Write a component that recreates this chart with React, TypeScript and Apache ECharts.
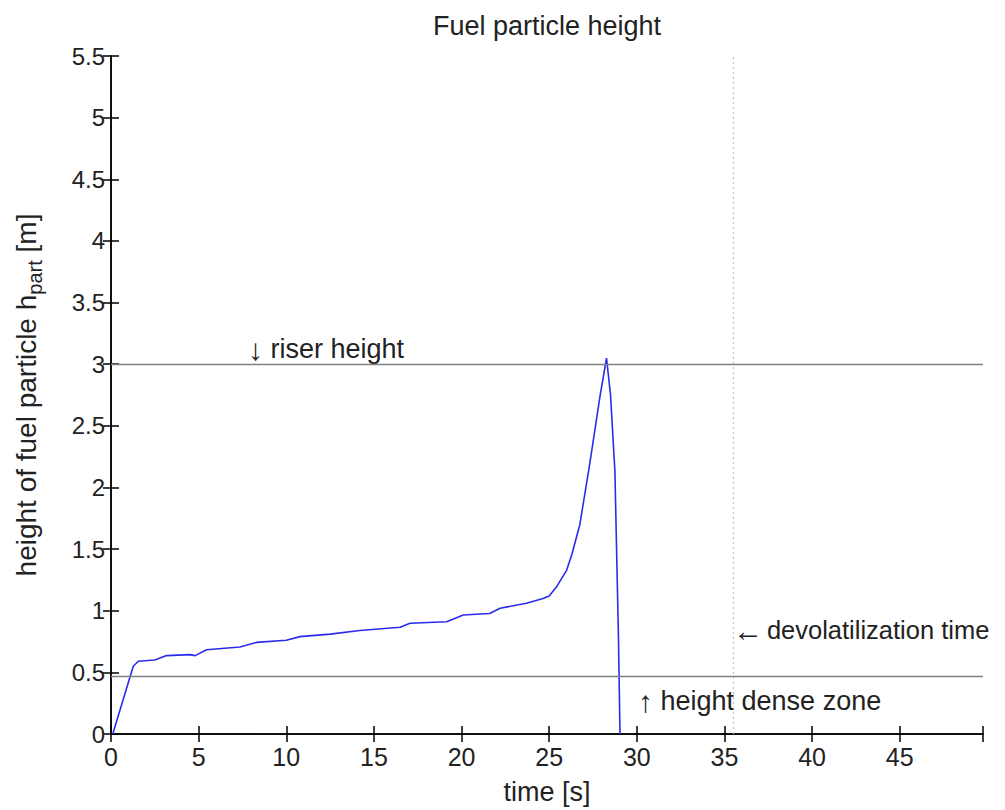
import React, { useEffect, useRef } from "react";
import * as echarts from "echarts";

const timeS = [0.1, 1.27, 1.56, 2.5, 3.17, 4.5, 4.8, 5.45, 7.36, 8.3, 10, 10.78, 12.5, 14.2, 16.5, 17.06, 19.15, 20.1, 21.6, 22.2, 23.7, 24.65, 25.0, 25.4, 26.0, 26.3, 26.75, 27.3, 27.9, 28.27, 28.5, 28.75, 28.85, 28.95, 29.04];
const heightM = [0, 0.55, 0.59, 0.6, 0.636, 0.644, 0.636, 0.684, 0.706, 0.743, 0.76, 0.79, 0.81, 0.84, 0.866, 0.898, 0.91, 0.965, 0.978, 1.02, 1.06, 1.1, 1.12, 1.19, 1.33, 1.46, 1.7, 2.18, 2.74, 3.05, 2.75, 2.13, 1.46, 0.8, 0];
const riserHeight = 3;
const denseZoneHeight = 0.465;
const devolatilizationTime = 35.5;
const xMax = 49.75;
const yMax = 5.5;

const FONT = "'Liberation Sans', Arial, sans-serif";
const TXT = "#222";
const BIG = 27;

export default function App() {
  const ref = useRef<HTMLDivElement>(null);
  useEffect(() => {
    const chart = echarts.init(ref.current!, null, { renderer: "svg" });
    const data = timeS.map((t, i) => [t, heightM[i]]);
    const axisLine = { show: true, lineStyle: { color: "#000", width: 1.5 } };
    const tick = { show: true, inside: true, length: 8, lineStyle: { color: "#000", width: 1.5 } };
    const arrowRich = {
      a: { fontFamily: FONT, fontSize: 30, fill: TXT, color: TXT },
      s: { fontFamily: FONT, fontSize: 14, fill: TXT, color: TXT },
    };
    chart.setOption({
      animation: false,
      textStyle: { fontFamily: FONT },
      title: {
        text: "Fuel particle height",
        left: 542,
        textAlign: "center",
        top: 7,
        textStyle: { fontFamily: FONT, fontSize: BIG, fontWeight: "normal", color: TXT },
      },
      grid: { left: 111, right: 22, top: 56, bottom: 68, containLabel: false },
      xAxis: [
        {
          type: "value",
          min: 0,
          max: xMax,
          interval: 5,
          position: "bottom",
          name: "time [s]",
          nameLocation: "middle",
          nameGap: 44,
          nameTextStyle: { fontFamily: FONT, fontSize: BIG, color: TXT },
          axisLine,
          axisTick: tick,
          splitLine: { show: false },
          axisLabel: {
            fontFamily: FONT,
            fontSize: 25,
            color: TXT,
            margin: 10,
            formatter: (v: number) => (Math.abs(v % 5) < 1e-9 ? String(v) : ""),
          },
        },
        {
          type: "value",
          min: 0,
          max: xMax,
          interval: 5,
          position: "top",
          axisLine,
          axisTick: tick,
          splitLine: { show: false },
          axisLabel: { show: false },
        },
      ],
      yAxis: [
        {
          type: "value",
          min: 0,
          max: yMax,
          interval: 0.5,
          position: "left",
          name: "height of fuel particle h{sub|part} [m]",
          nameLocation: "middle",
          nameRotate: 90,
          nameGap: 66,
          nameTextStyle: {
            fontFamily: FONT,
            fontSize: 28,
            color: TXT,
            rich: {
              sub: { fontFamily: FONT, fontSize: 20, color: TXT, padding: [18, 0, 0, 0], verticalAlign: "bottom" },
            },
          },
          axisLine,
          axisTick: tick,
          splitLine: { show: false },
          axisLabel: { fontFamily: FONT, fontSize: 24, color: TXT, margin: 6 },
        },
        {
          type: "value",
          min: 0,
          max: yMax,
          interval: 0.5,
          position: "right",
          axisLine,
          axisTick: tick,
          splitLine: { show: false },
          axisLabel: { show: false },
        },
      ],
      series: [
        {
          type: "line",
          data,
          showSymbol: false,
          symbol: "none",
          lineStyle: { color: "#2b2bee", width: 1.6 },
          markLine: {
            silent: true,
            symbol: "none",
            label: { show: false },
            data: [
              { yAxis: riserHeight, lineStyle: { color: "#808080", width: 1.4, type: "solid" } },
              { yAxis: denseZoneHeight, lineStyle: { color: "#808080", width: 1.4, type: "solid" } },
              { xAxis: devolatilizationTime, lineStyle: { color: "#c4c4c4", width: 1.2, type: [2, 3] } },
            ],
          },
        },
      ],
      graphic: [
        { type: "text", left: 248, top: 334, style: { text: "{a|↓} riser height", rich: arrowRich, fontFamily: FONT, fontSize: BIG, fill: TXT } },
        { type: "text", left: 638, top: 686, style: { text: "{a|↑} height dense zone", rich: arrowRich, fontFamily: FONT, fontSize: BIG, fill: TXT } },
        { type: "text", left: 733, top: 615, style: { text: "{a|←}{s| }devolatilization time", rich: arrowRich, fontFamily: FONT, fontSize: 25.5, fill: TXT } },
      ],
    });
    return () => chart.dispose();
  }, []);
  return <div ref={ref} style={{ position: "fixed", left: 0, top: 0, width: 1005, height: 810, background: "#fff" }} />;
}
